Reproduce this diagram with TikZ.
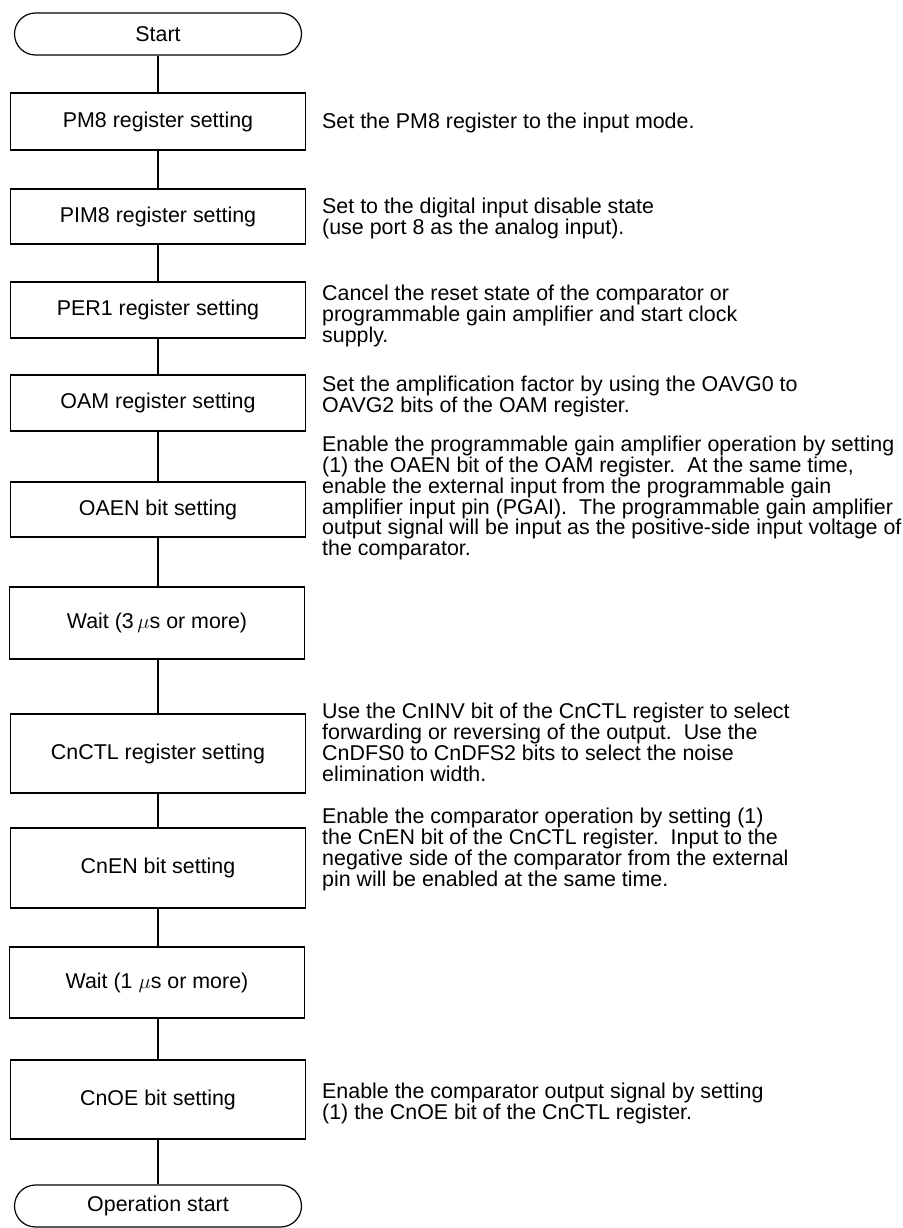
\documentclass[tikz,border=0pt]{standalone}
\usepackage{fontspec}
\setmainfont{Liberation Sans}
\usetikzlibrary{shapes.misc}
\tikzset{
  stepbox/.style={draw,line width=1.2pt,minimum width=295pt,inner sep=0pt,font=\fontsize{21.4}{21}\selectfont},
  termbox/.style={draw,line width=1.2pt,rounded rectangle,minimum width=287pt,minimum height=42pt,inner sep=0pt,font=\fontsize{21.4}{21}\selectfont},
  notetext/.style={anchor=north west,inner sep=0pt,align=left,font=\fontsize{21.4}{20.8}\selectfont},
  flowline/.style={line width=1.2pt}
}
\begin{document}
\begin{tikzpicture}[x=1pt,y=-1pt]
\useasboundingbox (0,0) rectangle (902,1228);
% flow steps
\node[termbox] (S) at (158,34) {Start};
\node[stepbox,minimum height=57pt] (B1) at (158,121.5) {PM8 register setting};
\node[stepbox,minimum height=55pt] (B2) at (158,216.5) {PIM8 register setting};
\node[stepbox,minimum height=56pt] (B3) at (158,310) {PER1 register setting};
\node[stepbox,minimum height=56pt] (B4) at (158,403) {OAM register setting};
\node[stepbox,minimum height=55pt] (B5) at (158,509.5) {OAEN bit setting};
\node[stepbox,minimum height=72pt] (W1) at (157,623) {Wait (3\,$\mu$s or more)};
\node[stepbox,minimum height=79pt] (B6) at (158,753.5) {CnCTL register setting};
\node[stepbox,minimum height=80pt] (B7) at (158,868) {CnEN bit setting};
\node[stepbox,minimum height=71pt] (W2) at (157,982.5) {Wait (1 $\mu$s or more)};
\node[stepbox,minimum height=79pt] (B8) at (158,1099.5) {CnOE bit setting};
\node[termbox] (E) at (158,1206) {Operation start};
\foreach \a/\b in {S/B1,B1/B2,B2/B3,B3/B4,B4/B5,B5/W1,W1/B6,B6/B7,B7/W2,W2/B8,B8/E}
  \draw[flowline] (\a.south -| S) -- (\b.north -| S);

% notes
\node[notetext] (N1) at (322,113) {Set the PM8 register to the input mode.};
\node[notetext] (N2) at (322,197.5) {Set to the digital input disable state\\(use port 8 as the analog input).};
\node[notetext] (N3) at (322,285) {Cancel the reset state of the comparator or\\programmable gain amplifier and start clock\\supply.};
\node[notetext] (N4) at (322,376) {Set the amplification factor by using the OAVG0 to\\OAVG2 bits of the OAM register.};
\node[notetext] (N5) at (322,436) {Enable the programmable gain amplifier operation by setting\\(1) the OAEN bit of the OAM register.\ \ At the same time,\\enable the external input from the programmable gain\\amplifier input pin (PGAI).\ \ The programmable gain amplifier\\output signal will be input as the positive-side input voltage of\\the comparator.};
\node[notetext] (N6) at (322,703) {Use the CnINV bit of the CnCTL register to select\\forwarding or reversing of the output.\ \ Use the\\CnDFS0 to CnDFS2 bits to select the noise\\elimination width.};
\node[notetext] (N7) at (322,808) {Enable the comparator operation by setting (1)\\the CnEN bit of the CnCTL register.\ \ Input to the\\negative side of the comparator from the external\\pin will be enabled at the same time.};
\node[notetext] (N8) at (322,1083) {Enable the comparator output signal by setting\\(1) the CnOE bit of the CnCTL register.};
\end{tikzpicture}
\end{document}
